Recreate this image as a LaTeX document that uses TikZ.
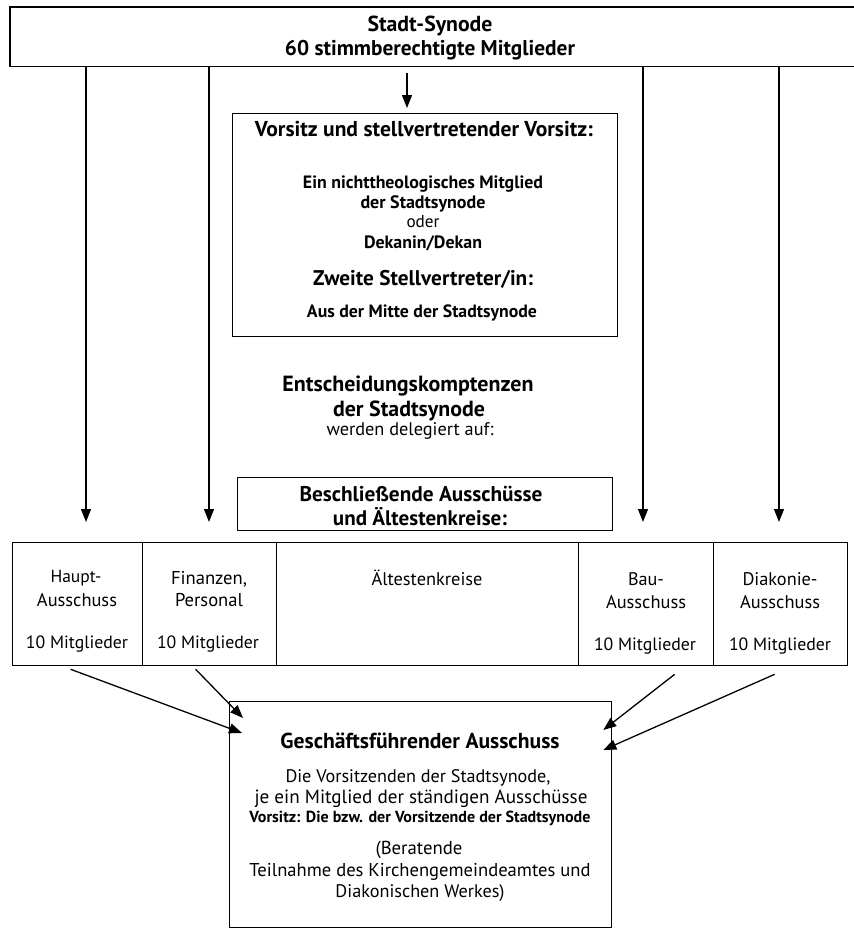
\documentclass[tikz,border=0pt]{standalone}
\usepackage{fontspec}
\usepackage{graphicx}
\setmainfont{PT Sans}
\usetikzlibrary{arrows.meta,calc}
\tikzset{
  box/.style={draw, line width=1.3pt, rectangle, inner sep=0pt, anchor=north west},
  txt/.style={inner sep=0pt},
  bt/.style={txt, font=\bfseries\fontsize{20}{24}\selectfont},
  rt/.style={txt, font=\fontsize{18}{22}\selectfont},
  arr/.style={line width=1.3pt, -{Triangle[length=13pt,width=10pt]}},
  conn/.style={line width=1.3pt}
}
\newcommand{\W}[2]{\resizebox{#1pt}{!}{#2}}
\begin{document}
\begin{tikzpicture}[x=1pt,y=-1pt]
\useasboundingbox[fill=white] (0,0) rectangle (854,929);

% top box (open to the right)
\node[inner sep=0pt, minimum width=860pt, minimum height=59pt, anchor=north west] (ts) at (10,7) {};
\draw[conn] (ts.north east) -- (ts.north west) -- (ts.south west) -- (ts.south east);
\node[bt] (ts1) at (430,26) {\W{125}{Stadt-Synode}};
\node[bt] (ts2) at (430,50) {\W{290}{60 stimmberechtigte Mitglieder}};

% Vorsitz box
\node[box, minimum width=385pt, minimum height=223pt] (vs) at (232,113) {};
\node[bt] (vs1) at (424,129) {\W{338}{Vorsitz und stellvertretender Vorsitz:}};
\node[bt] (vs2) at (423,184) {\W{240}{Ein nichttheologisches Mitglied}};
\node[bt] (vs3) at (423,204) {\W{125}{der Stadtsynode}};
\node[rt] (vs4) at (423,222) {\W{33}{oder}};
\node[bt] (vs5) at (423,243) {\W{118}{Dekanin/Dekan}};
\node[bt] (vs6) at (423,279) {\W{220}{Zweite Stellvertreter/in:}};
\node[bt] (vs7) at (422,313) {\W{230}{Aus der Mitte der Stadtsynode}};

% middle text
\node[bt] (ent1) at (408,386) {\W{251}{Entscheidungskomptenzen}};
\node[bt] (ent2) at (409,411) {\W{152}{der Stadtsynode}};
\node[rt] (del) at (410,431) {\W{167}{werden delegiert auf:}};

% Beschliessende box
\node[box, minimum width=375pt, minimum height=53pt] (bs) at (237,477) {};
\node[bt] (bs1) at (421,494) {\W{243}{Beschließende Ausschüsse}};
\node[bt] (bs2) at (420,517) {\W{174}{und Ältestenkreise:}};

% row of boxes
\node[box, minimum width=130pt, minimum height=123pt] (r1) at (12,542) {};
\node[box, minimum width=134pt, minimum height=123pt] (r2) at (142,542) {};
\node[box, minimum width=302pt, minimum height=123pt] (r3) at (276,542) {};
\node[box, minimum width=135pt, minimum height=123pt] (r4) at (578,542) {};
\node[box, minimum width=134pt, minimum height=123pt] (r5) at (713,542) {};

\node[rt] (r1a) at (76,578) {\W{51}{Haupt-}};
\node[rt] (r1b) at (77,600) {\W{80}{Ausschuss}};
\node[rt] (r1c) at (77,644) {\W{102}{10 Mitglieder}};
\node[rt] (r2a) at (209,579) {\W{76}{Finanzen,}};
\node[rt] (r2b) at (209,600) {\W{68}{Personal}};
\node[rt] (r2c) at (208,644) {\W{102}{10 Mitglieder}};
\node[rt] (r3a) at (427,578) {\W{111}{Ältestenkreise}};
\node[rt] (r4a) at (646,579) {\W{36}{Bau-}};
\node[rt] (r4b) at (646,602) {\W{80}{Ausschuss}};
\node[rt] (r4c) at (645,646) {\W{102}{10 Mitglieder}};
\node[rt] (r5a) at (780,579) {\W{75}{Diakonie-}};
\node[rt] (r5b) at (780,602) {\W{80}{Ausschuss}};
\node[rt] (r5c) at (780,646) {\W{102}{10 Mitglieder}};

% bottom box
\node[box, minimum width=382pt, minimum height=226pt] (gs) at (229,701) {};
\node[bt] (gs1) at (420,741) {\W{279}{Geschäftsführender Ausschuss}};
\node[rt] (gs2) at (418,778) {\W{265}{Die Vorsitzenden der Stadtsynode,}};
\node[rt] (gs3) at (421,799) {\W{333}{je ein Mitglied der ständigen Ausschüsse}};
\node[bt] (gs4) at (420,818) {\W{341}{Vorsitz: Die bzw. der Vorsitzende der Stadtsynode}};
\node[rt] (gs5) at (419,850) {\W{87}{(Beratende}};
\node[rt] (gs6) at (420,872) {\W{341}{Teilnahme des Kirchengemeindeamtes und}};
\node[rt] (gs7) at (420,893) {\W{169}{Diakonischen Werkes)}};

% arrows from top box
\coordinate (e1) at (86,522);
\coordinate (e2) at (209,522);
\coordinate (e3) at (643,522);
\coordinate (e4) at (779,522);
\draw[arr] (ts.south -| e1) -- (e1);
\draw[arr] (ts.south -| e2) -- (e2);
\draw[arr] (ts.south -| e3) -- (e3);
\draw[arr] (ts.south -| e4) -- (e4);
\coordinate (va) at (407,108);
\draw[arr, shorten <=7pt] (ts.south -| va) -- (va);

% arrows into bottom box
\draw[arr] ($(r1.south)+(-7,3)$) -- ($(gs.north west)+(13,32)$);
\draw[arr] ($(r2.south)+(-14,3)$) -- ($(gs.north west)+(14,17)$);
\draw[arr] ($(r4.south)+(28.5,8)$) -- ($(gs.north east)+(-9,29)$);
\draw[arr] ($(r5.south)+(-6,8)$) -- ($(gs.north east)+(-9,49)$);
\end{tikzpicture}
\end{document}
